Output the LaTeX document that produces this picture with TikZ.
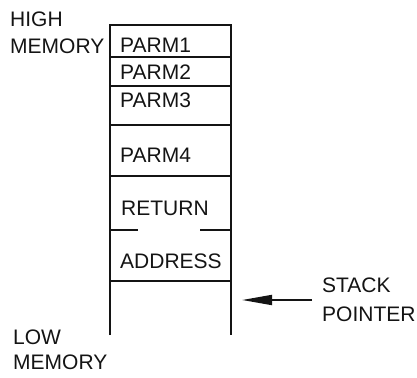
\documentclass[tikz,border=0pt]{standalone}
\usepackage{fontspec}
\setmainfont{Liberation Sans}
\usepackage{tikz}
\usetikzlibrary{arrows.meta, positioning, calc}
\definecolor{cInk}{RGB}{20,20,20}
\tikzset{
    wall/.style   ={draw=cInk, line width=1.8pt},
    cellname/.style={anchor=base west, inner sep=0pt, text=cInk, font=\fontsize{21}{24}\selectfont},
    sidelabel/.style={anchor=north west, inner sep=0pt, align=left, text=cInk},
    ptr/.style    ={-{Triangle[length=30pt, width=10pt]}, line width=1.8pt, draw=cInk},
}

\begin{document}
\begin{tikzpicture}[x=1pt, y=-1pt]
        \useasboundingbox (0,0) rectangle (417,377);
        % stack outline
        \draw[wall] (110,335) -- (110,25) -- (231,25) -- (231,335);
        \draw[wall] (110,57) -- (231,57);
        \draw[wall] (110,86) -- (231,86);
        \draw[wall] (110,125) -- (231,125);
        \draw[wall] (110,176) -- (231,176);
        \draw[wall] (110,230) -- (138,230);
        \draw[wall] (200,230) -- (231,230);
        \draw[wall] (110,281) -- (231,281);
        % cell contents
        \node[cellname] (p1) at (120,53) {PARM1};
        \node[cellname] (p2) at (120,80) {PARM2};
        \node[cellname] (p3) at (120,107) {PARM3};
        \node[cellname] (p4) at (120,162) {PARM4};
        \node[cellname] (ret) at (121,215) {RETURN};
        \node[cellname] (adr) at (120,268) {ADDRESS};
        % side labels
        \node[sidelabel, font=\fontsize{21}{27}\selectfont] (hi) at (10,11.5) {HIGH\\MEMORY};
        \node[sidelabel, font=\fontsize{21}{25}\selectfont] (lo) at (13,330) {LOW\\MEMORY};
        \node[sidelabel, font=\fontsize{21}{29}\selectfont] (sp) at (322,278) {STACK\\POINTER};
        \coordinate (tip) at (242,300);
        \draw[ptr] ([xshift=-10pt]sp.west |- tip) -- (tip);
    \end{tikzpicture}
\end{document}
